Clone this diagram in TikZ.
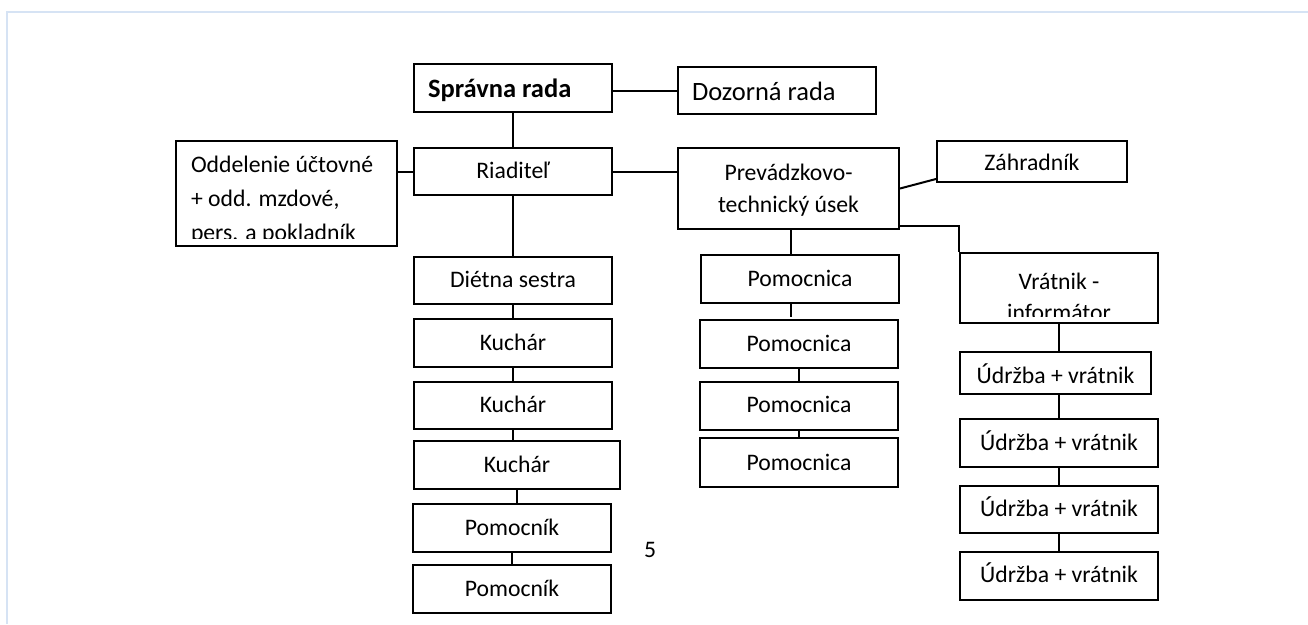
\documentclass[tikz,border=0pt]{standalone}
\usepackage{fontspec}
\setmainfont{Carlito}
\usetikzlibrary{calc}
\definecolor{framec}{HTML}{D6E3F4}
\newcommand{\dfont}{\fontsize{23.7}{32}\selectfont}
\newcommand{\tfont}{\fontsize{26.5}{32}\selectfont}
\begin{document}
\begin{tikzpicture}[x=1pt,y=-1pt,
  box/.style={draw, line width=2pt, inner sep=0pt, font=\dfont,
    text height=14pt, text depth=0pt},
  conn/.style={line width=2pt},
  plain/.style={inner sep=0pt, font=\dfont, text height=14pt, text depth=0pt}]
\useasboundingbox (0,0) rectangle (1308,624);
\draw[framec, line width=1.5pt] (7,624) -- (7,12) -- (1308,12);

% top
\node[box, font=\tfont, minimum width=198pt, minimum height=48pt, inner xsep=14pt, text height=18pt] (spr) at (513,88)
  {\makebox[170pt][l]{\bfseries Správna rada}};
\node[box, font=\tfont, minimum width=198pt, minimum height=47pt, inner xsep=14pt, text height=19pt] (doz) at (777,90.5)
  {\makebox[170pt][l]{Dozorná rada}};
\node[box, minimum width=221pt, minimum height=105pt, inner xsep=15pt, text height=0pt, text depth=43pt] (odd) at (286.5,193.5)
  {\makebox[191pt][l]{\fontsize{23.7}{34}\selectfont\begin{tabular}[t]{@{}l@{}}Oddelenie účtovné\\+ odd. mzdové,\\pers. a pokladník\end{tabular}}};
\fill[white] (178,239) rectangle (395,245);
\node[box, minimum width=198pt, minimum height=47pt] (ria) at (513,171.5) {Riaditeľ};
\node[box, minimum width=221pt, minimum height=81pt, text height=0pt, text depth=16pt] (prev) at (788.5,188.5)
  {\begin{tabular}[t]{@{}c@{}}Prevádzkovo-\\technický úsek\end{tabular}};
\node[box, minimum width=190pt, minimum height=41pt, text height=18.4pt] (zah) at (1032,161.5) {Záhradník};

% column 1
\node[box, minimum width=198pt, minimum height=47pt, text height=13.6pt] (die) at (513,280.5) {Diétna sestra};
\node[box, minimum width=198pt, minimum height=48pt] (ku1) at (513,343) {Kuchár};
\node[box, minimum width=198pt, minimum height=47pt, text height=13.6pt] (ku2) at (513,405.5) {Kuchár};
\node[box, minimum width=206pt, minimum height=48pt, text height=14.6pt] (ku3) at (517,465) {Kuchár};
\node[box, minimum width=198pt, minimum height=48pt] (po1) at (512,528) {Pomocník};
\node[box, minimum width=198pt, minimum height=48pt, text height=15.4pt] (po2) at (512,589) {Pomocník};

% column 2
\node[box, minimum width=198pt, minimum height=48pt, text height=15.4pt] (pa1) at (800,279) {Pomocnica};
\node[box, minimum width=198pt, minimum height=48pt, text height=15.4pt] (pa2) at (799,344) {Pomocnica};
\node[box, minimum width=198pt, minimum height=48pt, text height=13.4pt] (pa3) at (799,406) {Pomocnica};
\node[box, minimum width=198pt, minimum height=49pt, text height=15pt] (pa4) at (799,462.5) {Pomocnica};

% column 3
\node[box, minimum width=198pt, minimum height=70pt, text height=2pt, text depth=0pt] (vr) at (1059,288)
  {\fontsize{23.7}{31}\selectfont\begin{tabular}[t]{@{}c@{}}Vrátnik -\\informátor\end{tabular}};
\fill[white] (961,317) rectangle (1157,322);
\node[box, minimum width=191pt, minimum height=42pt, text height=20.6pt] (u1) at (1055.5,373) {Údržba + vrátnik};
\node[box, minimum width=198pt, minimum height=48pt] (u2) at (1059,443) {Údržba + vrátnik};
\node[box, minimum width=198pt, minimum height=47pt, text height=14.4pt] (u3) at (1059,509.5) {Údržba + vrátnik};
\node[box, minimum width=198pt, minimum height=48pt, text height=13.4pt] (u4) at (1059,576) {Údržba + vrátnik};

\node[plain] (pg) at (650,550) {5};

% connectors
\draw[conn] (spr.east |- doz.west) -- (doz.west);
\draw[conn] (spr.south) -- (ria.north);
\draw[conn] (odd.east |- ria.west) -- (ria.west);
\draw[conn] (ria.east) -- (ria.east -| prev.west);
\draw[conn] (prev.east) -- ($(zah.south west)+(0,-4)$);
\draw[conn] (ria.south) -- (die.north);
\draw[conn] (die.south) -- (ku1.north);
\draw[conn] (ku1.south) -- (ku2.north);
\draw[conn] (ku2.south) -- (ku2.south |- ku3.north);
\draw[conn] (ku3.south) -- (ku3.south |- po1.north);
\draw[conn] (po1.south) -- (po2.north);
\coordinate (pt) at ($(prev.south)+(2.5,0)$);
\draw[conn] (pt) -- (pt |- pa1.north);
\coordinate (stub) at ($(pa1.south)+(-9,13)$);
\draw[conn] (pa1.south -| stub) -- (stub);
\draw[conn] (pa2.south) -- (pa3.north);
\draw[conn] (pa3.south) -- (pa4.north);
\draw[conn] ($(prev.south east)+(0,-4)$) -| (vr.north west);
\draw[conn] (vr.south) -- (vr.south |- u1.north);
\draw[conn] (u2.north |- u1.south) -- (u2.north);
\draw[conn] (u2.south) -- (u3.north);
\draw[conn] (u3.south) -- (u4.north);
\end{tikzpicture}
\end{document}
